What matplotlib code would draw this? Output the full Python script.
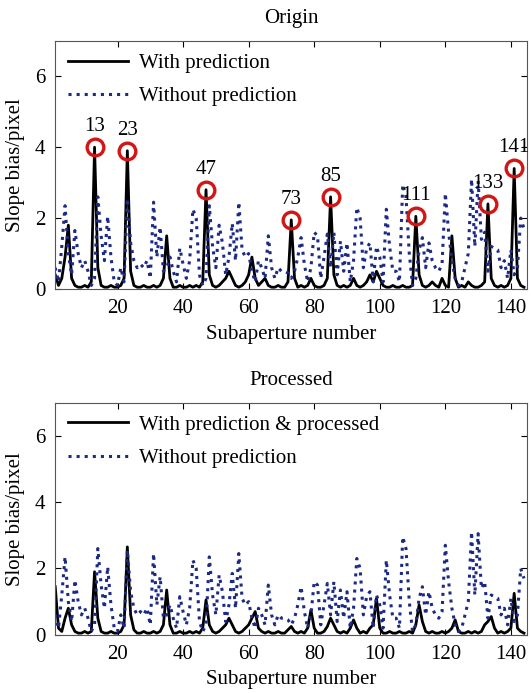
import numpy as np
import matplotlib as mpl
mpl.use('Agg')
import matplotlib.pyplot as plt

plt.rcParams['font.family'] = ['Liberation Serif', 'DejaVu Serif']
plt.rcParams['xtick.direction'] = 'in'
plt.rcParams['ytick.direction'] = 'in'

# subaperture index 1..144
sub = np.arange(1, 145)

# slope bias without prediction (same in both panels)
without_pred = [
    0.6, 0.2, 1.2, 2.35, 1.0, 0.4, 1.65, 1.0, 0.6, 0.8,
    0.5, 0.1, 0.3, 2.6, 1.5, 0.8, 2.05, 0.9, 0.2, 0.1,
    0.6, 0.2, 2.55, 1.3, 0.8, 0.6, 0.7, 0.6, 0.8, 0.3,
    2.45, 0.9, 1.75, 0.5, 0.6, 0.9, 0.5, 0.2, 1.15, 0.7,
    0.3, 0.8, 2.25, 2.0, 0.4, 0.1, 0.3, 2.35, 1.2, 0.6,
    1.8, 1.3, 0.4, 0.9, 1.85, 0.8, 2.45, 1.1, 0.9, 1.0,
    0.5, 0.2, 0.8, 0.6, 0.3, 1.5, 0.6, 0.3, 0.6, 0.5,
    0.5, 0.45, 0.3, 0.5, 0.9, 1.45, 0.7, 0.2, 0.6, 1.6,
    1.5, 0.3, 0.9, 1.55, 0.6, 1.6, 0.4, 1.35, 0.5, 1.3,
    0.2, 0.8, 2.3, 2.0, 0.6, 1.15, 1.3, 0.2, 1.2, 0.9,
    0.2, 2.25, 1.2, 0.5, 0.5, 0.2, 2.95, 2.6, 1.0, 0.1,
    0.3, 1.1, 1.45, 0.6, 1.3, 0.8, 0.6, 0.5, 0.7, 2.7,
    1.6, 0.8, 0.3, 0.1, 0.2, 0.6, 1.0, 3.1, 1.2, 3.05,
    1.4, 1.6, 0.5, 1.2, 1.15, 1.1, 0.6, 0.8, 0.3, 1.1,
    0.4, 0.6, 2.0, 1.7,
]

# slope bias with prediction (origin)
with_pred = [
    0.4, 0.1, 0.3, 0.9, 1.8, 0.3, 0.1, 0.05, 0.05, 0.1,
    0.05, 0.2, 4.0, 0.6, 0.1, 0.05, 0.05, 0.1, 0.05, 0.05,
    0.1, 0.3, 3.9, 0.5, 0.1, 0.05, 0.05, 0.1, 0.05, 0.05,
    0.1, 0.05, 0.1, 0.3, 1.5, 0.3, 0.05, 0.05, 0.1, 0.05,
    0.05, 0.1, 0.05, 0.1, 0.05, 0.2, 2.8, 0.4, 0.1, 0.05,
    0.1, 0.2, 0.3, 0.5, 0.3, 0.1, 0.05, 0.1, 0.2, 0.4,
    0.9, 0.3, 0.1, 0.2, 0.3, 0.1, 0.05, 0.05, 0.1, 0.05,
    0.05, 0.2, 1.95, 0.3, 0.05, 0.1, 0.05, 0.1, 0.3, 0.1,
    0.05, 0.05, 0.1, 0.3, 2.6, 0.4, 0.1, 0.05, 0.1, 0.05,
    0.1, 0.3, 0.1, 0.05, 0.1, 0.2, 0.4, 0.2, 0.5, 0.3,
    0.1, 0.05, 0.05, 0.1, 0.05, 0.05, 0.1, 0.05, 0.05, 0.1,
    2.05, 0.4, 0.1, 0.05, 0.1, 0.2, 0.1, 0.05, 0.3, 0.1,
    0.05, 1.5, 0.3, 0.05, 0.1, 0.05, 0.2, 0.1, 0.05, 0.05,
    0.1, 0.2, 2.4, 0.3, 0.1, 0.05, 0.1, 0.05, 0.1, 0.3,
    3.4, 0.3, 0.1, 0.05,
]

# slope bias with prediction & processed
processed = [
    1.45, 0.2, 0.1, 0.5, 0.8, 0.3, 0.1, 0.05, 0.05, 0.1,
    0.05, 0.1, 1.9, 0.5, 0.1, 0.05, 0.05, 0.1, 0.05, 0.05,
    0.1, 0.3, 2.65, 0.6, 0.15, 0.05, 0.05, 0.1, 0.05, 0.05,
    0.1, 0.05, 0.1, 0.3, 1.35, 0.3, 0.05, 0.05, 0.1, 0.05,
    0.05, 0.1, 0.05, 0.1, 0.05, 0.2, 1.05, 0.3, 0.1, 0.05,
    0.1, 0.2, 0.3, 0.5, 0.3, 0.1, 0.05, 0.1, 0.2, 0.3,
    0.5, 0.7, 0.2, 0.1, 0.05, 0.1, 0.05, 0.05, 0.1, 0.05,
    0.05, 0.15, 0.25, 0.1, 0.05, 0.1, 0.05, 0.2, 0.75, 0.2,
    0.05, 0.05, 0.1, 0.25, 0.5, 0.3, 0.1, 0.05, 0.1, 0.05,
    0.2, 0.45, 0.2, 0.05, 0.1, 0.05, 0.2, 0.3, 1.1, 0.2,
    0.05, 0.05, 0.1, 0.05, 0.05, 0.1, 0.05, 0.05, 0.1, 0.05,
    0.3, 0.9, 0.4, 0.1, 0.05, 0.1, 0.05, 0.05, 0.1, 0.05,
    0.1, 0.2, 0.45, 0.1, 0.05, 0.05, 0.1, 0.05, 0.1, 0.05,
    0.1, 0.3, 0.4, 0.55, 0.2, 0.05, 0.1, 0.05, 0.1, 0.2,
    1.25, 0.2, 0.1, 0.05,
]

# marked peaks in the origin panel
peak_ids = [13, 23, 47, 73, 85, 111, 133, 141]

dot_color = '#1c2a85'
red = '#d21515'
fs = 15

fig = plt.figure(figsize=(5.31, 6.93), dpi=100)
ax1 = fig.add_axes([0.104, 0.583, 0.889, 0.358])
ax2 = fig.add_axes([0.104, 0.084, 0.889, 0.335])

ax1.plot(sub, with_pred, 'k-', lw=2.0, label='With prediction')
ax1.plot(sub, without_pred, ':', color=dot_color, lw=2.2, label='Without prediction')
for p in peak_ids:
    v = with_pred[p - 1]
    ax1.plot(p, v, 'o', mfc='none', mec=red, mew=2.4, ms=12)
    ax1.annotate(str(p), (p, v), xytext=(0, 8), textcoords='offset points',
                 ha='center', va='bottom', fontsize=fs)
ax1.set_title('Origin', fontsize=fs, pad=13)

ax2.plot(sub, processed, 'k-', lw=2.0, label='With prediction & processed')
ax2.plot(sub, without_pred, ':', color=dot_color, lw=2.2, label='Without prediction')
ax2.set_title('Processed', fontsize=fs, pad=13)

for ax in (ax1, ax2):
    ax.set_xlim(1, 145)
    ax.set_ylim(0, 7)
    ax.set_xticks([20, 40, 60, 80, 100, 120, 140])
    ax.set_yticks([0, 2, 4, 6])
    ax.tick_params(labelsize=fs, top=True, right=True, length=4, width=0.8, pad=7)
    ax.set_xlabel('Subaperture number', fontsize=fs, labelpad=5)
    ax.set_ylabel('Slope bias/pixel', fontsize=fs, labelpad=7)
    for s in ax.spines.values():
        s.set_color('#555555')
    leg = ax.legend(loc='upper left', frameon=False, fontsize=fs,
                    handlelength=2.9, borderaxespad=0.2, labelspacing=0.65,
                    handletextpad=0.5)

plt.savefig('out.png', dpi=100)
